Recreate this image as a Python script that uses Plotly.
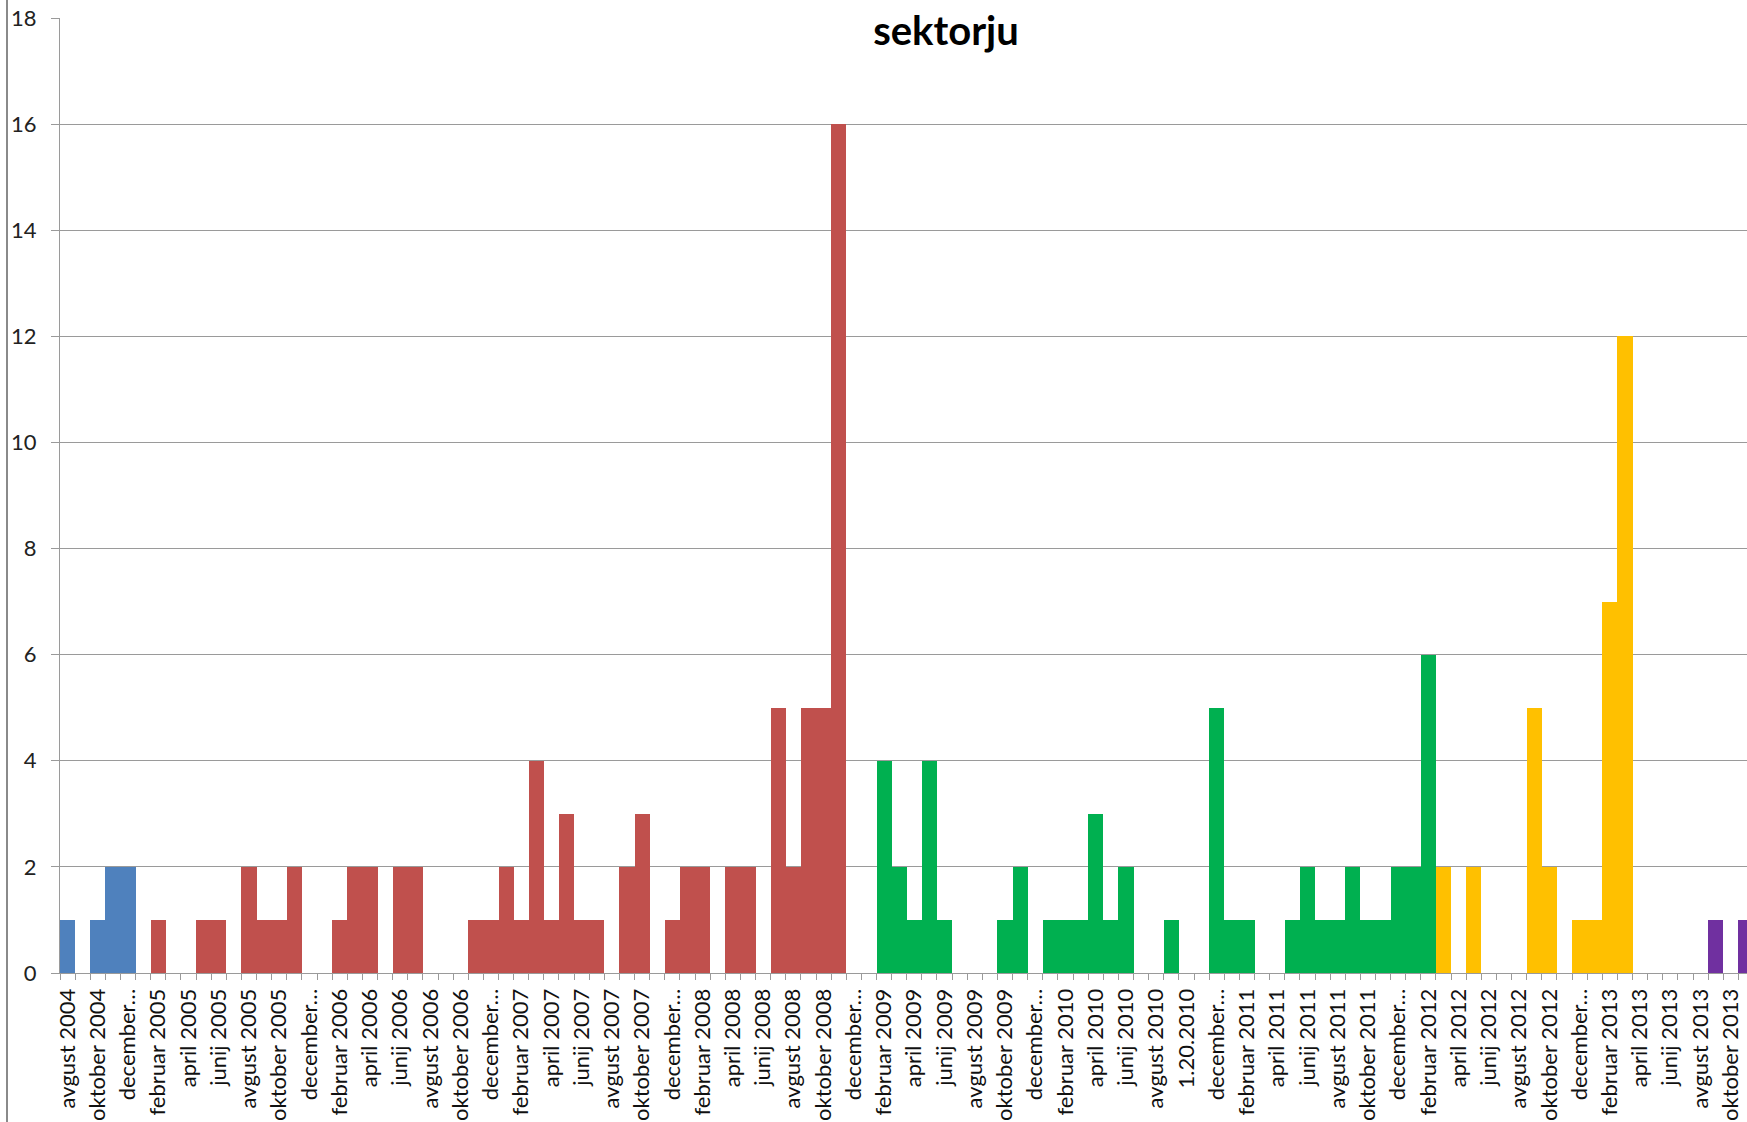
import plotly.graph_objects as go

# Monthly counts, August 2004 - November 2013, split into five periods
MONTH_NAMES = ["januar", "februar", "marec", "april", "maj", "junij",
               "julij", "avgust", "september", "oktober", "november", "december"]

period_1 = [1, 0, 1, 2, 2]                                   # avg 2004 - dec 2004
period_2 = [0, 1, 0, 0, 1, 1, 0, 2, 1, 1, 2, 0,              # 2005
            0, 1, 2, 2, 0, 2, 2, 0, 0, 0, 1, 1,              # 2006
            2, 1, 4, 1, 3, 1, 1, 0, 2, 3, 0, 1,              # 2007
            2, 2, 0, 2, 2, 0, 5, 2, 5, 5, 16, 0]             # 2008
period_3 = [0, 4, 2, 1, 4, 1, 0, 0, 0, 1, 2, 0,              # 2009
            1, 1, 1, 3, 1, 2, 0, 0, 1, 0, 0, 5,              # 2010
            1, 1, 0, 0, 1, 2, 1, 1, 2, 1, 1, 2,              # 2011
            2, 6]                                            # jan - feb 2012
period_4 = [2, 0, 2, 0, 0, 0, 5, 2, 0, 1, 1, 7, 12]           # mar 2012 - mar 2013
period_5 = [0, 0, 0, 0, 0, 1, 0, 1]                           # apr 2013 - nov 2013

periods = [period_1, period_2, period_3, period_4, period_5]
colors = ["#4F81BD", "#C0504D", "#00B050", "#FFC000", "#7030A0"]

# Category labels: "<month> <year>" starting at avgust 2004
n_total = sum(len(p) for p in periods)
labels = [f"{MONTH_NAMES[(7 + i) % 12]} {2004 + (7 + i) // 12}" for i in range(n_total)]
labels[74] = "1.20.2010"

# long labels are shortened on the axis
tick_text = [("december…" if lab.startswith("december") else lab) for lab in labels]

FONT = "Lato"
GRID = "#9a9a9a"

fig = go.Figure()
start = 0
for i, (vals, col) in enumerate(zip(periods, colors)):
    xs = list(range(start, start + len(vals)))
    fig.add_trace(go.Bar(
        x=xs, y=vals, marker=dict(color=col, line=dict(width=0)),
        name=f"obdobje {i + 1}", showlegend=False,
        hovertext=[labels[k] for k in xs], width=1.0,
    ))
    start += len(vals)

positions = list(range(n_total))

fig.update_layout(
    width=1747, height=1122,
    margin=dict(l=60, r=0, t=18, b=149),
    paper_bgcolor="white", plot_bgcolor="white",
    barmode="overlay", bargap=0,
    title=dict(text="<b>sektorju</b>", font=dict(family=FONT, size=40, color="#000"),
               x=946 / 1747, xanchor="center", xref="container",
               y=1 - 31 / 1122, yanchor="middle", yref="container"),
    xaxis=dict(
        range=[-0.5, 111.07],
        tickmode="array", tickvals=positions[::2], ticktext=tick_text[::2],
        tickangle=-90, ticks="outside", ticklen=6, tickcolor="rgba(0,0,0,0)",
        minor=dict(tickmode="linear", tick0=-0.5, dtick=1, ticks="outside",
                   ticklen=6, tickcolor=GRID, showgrid=False),
        showline=True, linecolor=GRID, linewidth=1,
        showgrid=False, zeroline=False, automargin=False,
        tickfont=dict(family=FONT, size=22, color="#111"),
    ),
    yaxis=dict(
        range=[0, 18], tickmode="linear", tick0=0, dtick=2,
        showgrid=True, gridcolor=GRID, gridwidth=1,
        ticks="outside", ticklen=8, tickcolor=GRID,
        showline=True, linecolor=GRID, linewidth=1,
        zeroline=False, automargin=False, ticklabelstandoff=10,
        tickfont=dict(family=FONT, size=22, color="#222"),
    ),
    shapes=[dict(type="line", xref="paper", yref="paper",
                 x0=-53 / 1687, x1=-53 / 1687, y0=-0.2, y1=1.05,
                 line=dict(color="#8a8a8a", width=2))],
)

fig.write_html("out.html")
